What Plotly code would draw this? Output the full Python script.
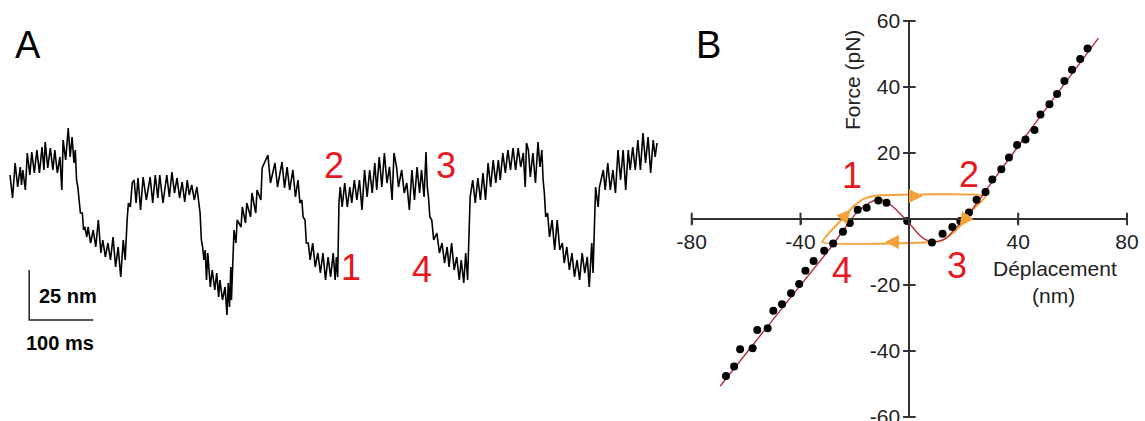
import plotly.graph_objects as go

W, H = 1145, 421

# ---------------- Panel A : position trace (time in ms, position in nm) ----------------
trace_t = [0, 4, 8, 12, 16, 18, 20, 24, 27, 31, 34, 38, 42, 46, 50, 53, 55, 59, 63, 67,
           70, 74, 78, 81, 83, 87, 91, 94, 97, 100, 102, 104, 106, 110, 113, 115, 117, 120,
           122, 126, 130, 134, 138, 142, 145, 149, 153, 157, 161, 165, 169, 173, 177, 180,
           183, 185, 188, 191, 194, 197, 200, 204, 208, 213, 219, 223, 227, 231, 234, 239,
           245, 249, 253, 257, 261, 265, 269, 273, 277, 280, 284, 288, 292, 295,
           297, 299, 301, 303, 305, 307, 309, 313, 316, 320, 323, 326, 328, 332, 336, 339,
           341, 343, 345, 346, 348, 350, 353, 355, 361, 363, 368, 370, 376, 378, 384, 386,
           392, 394, 403, 407, 414, 418, 425, 429, 433, 437, 442, 446, 450, 453, 456, 458,
           461, 463, 466, 469, 473, 477, 481, 485, 489, 493, 497, 501, 505, 508, 510, 512,
           513, 514, 516, 519, 523, 527, 531, 534, 538, 542, 546, 550, 554, 558, 562, 566,
           570, 573, 577, 581, 585, 589, 593, 597, 600, 604, 607, 612, 616, 620, 624, 628,
           632, 636, 640, 643, 647, 650, 652, 654, 656, 659, 662, 667, 671, 675, 679, 683,
           686, 690, 694, 698, 702, 705, 709, 712, 715, 717, 719, 723, 727, 731, 735, 739,
           743, 747, 751, 755, 759, 763, 766, 770, 774, 778, 782, 786, 790, 794, 798, 802,
           805, 807, 810, 813, 817, 821, 825, 828, 831, 833, 835, 837, 840, 843, 847, 851,
           855, 859, 863, 866, 870, 874, 878, 882, 886, 890, 894, 898, 902, 905, 909, 911,
           913, 915, 919, 921, 927, 930, 934, 938, 942, 946, 950, 954, 958, 962, 966, 969,
           973, 977, 981, 985, 989, 993, 997, 1001, 1005, 1008, 1011]
trace_nm = [77.5, 66, 83.5, 71.5, 81.5, 72.5, 80, 70, 88.5, 77.5, 89, 78.5, 90, 78.5, 91.5, 80, 94, 81, 91, 80,
            90, 78.5, 86.5, 70, 95, 85, 101, 86.5, 96.5, 83.5, 90, 75, 71.5, 58.5, 58.5, 50, 51.5, 46.5,
            51.5, 43.5, 50, 41.5, 55, 38.5, 45, 36.5, 43.5, 35, 46.5, 31.5, 41.5, 26.5, 45, 35,
            55, 63.5, 61.5, 73.5, 75, 63.5, 76, 60, 76.5, 65, 76.5, 63.5, 77.5, 66, 77.5, 63.5,
            77.5, 66.5, 79, 68.5, 76, 66, 74, 64, 75, 67.5, 72.5, 65, 71.5, 61.5,
            58.5, 45, 41.5, 35, 40, 25, 38.5, 21.5, 30, 20, 28.5, 16.5, 25, 15, 21.5, 7.5,
            23.5, 11.5, 31.5, 15, 38.5, 50, 43.5, 55, 51.5, 61.5, 53.5, 63.5, 56.5, 68.5, 58.5, 70,
            65, 81, 87.5, 73.5, 83.5, 71.5, 84, 71, 81.5, 70, 80, 66.5, 75, 63.5, 65, 56.5,
            55, 43.5, 43.5, 35, 43.5, 31.5, 38.5, 28.5, 38.5, 25, 36.5, 26.5, 38.5, 25, 36.5, 26.5,
            45, 63.5, 71.5, 61.5, 73.5, 61.5, 71.5, 63.5, 75, 65, 75, 60, 80, 66.5, 80, 68.5,
            83.5, 70, 86.5, 71.5, 88.5, 73.5, 81.5, 65, 88.5, 81.5, 71.5, 80, 68.5, 73.5, 60, 80,
            65, 81.5, 68.5, 80, 66.5, 89, 71.5, 66, 56.5, 55, 45, 48.5, 38.5, 43.5, 33.5, 41.5,
            31.5, 43.5, 30, 36.5, 25, 35, 23.5, 38.5, 25, 50, 66.5, 75, 63.5, 76, 65, 78.5,
            65, 83.5, 71.5, 85, 73.5, 85, 75, 88.5, 78.5, 90, 80, 91, 80, 91, 81.5, 88.5,
            71.5, 93.5, 90, 76.5, 88.5, 73.5, 94, 81.5, 90, 75, 68, 56.5, 58.5, 46.5, 55, 40,
            55, 40, 43.5, 33.5, 41.5, 30, 38.5, 26.5, 35, 25, 38.5, 28.5, 36.5, 21.5, 43.5, 28.5,
            55, 71.5, 61.5, 71.5, 80, 70, 83.5, 70, 80, 68.5, 90, 75, 90, 70, 90, 80,
            91.5, 80, 95, 80, 98.5, 83.5, 96.5, 78.5, 95, 86.5, 93.5]

# scale bar: 25 nm x 100 ms
scalebar_t = [30, 30, 130]
scalebar_nm = [30, 5, 5]

# ---------------- Panel B : force vs displacement ----------------
dots_x = [-67.4, -64.4, -62.2, -57.6, -55.9, -52.1, -50.0, -46.8, -43.5, -40.5, -38.2, -35.2, -31.3,
          -28.0, -24.4, -21.9, -19.0, -15.7, -11.4, -8.4, -0.8, 8.3, 12.2, 15.8, 18.7, 21.9, 24.7,
          28.0, 30.5, 33.8, 36.6, 39.6, 42.7, 46.0, 48.2, 51.5, 54.3, 57.0, 59.8, 62.8, 65.5]
dots_y = [-47.6, -44.7, -39.5, -39.2, -33.6, -33.1, -27.8, -25.8, -22.5, -19.7, -15.7, -12.7, -9.6,
          -7.4, -3.9, -1.2, 2.8, 3.4, 5.6, 4.9, -0.6, -7.1, -4.5, -2.4, -0.6, 2.0, 5.8,
          8.2, 12.0, 15.1, 18.6, 22.4, 24.1, 27.0, 31.7, 34.8, 37.9, 41.8, 45.2, 48.5, 51.7]

fit_x = [-69.5, -45, -30, -23, -19.5, -16, -13, -11, -8.5, -6, -3.5, 0, 2.5, 5, 8, 11, 13.5, 17, 21, 25, 30, 45, 69.5]
fit_y = [-50.6, -25.2, -9.8, -2, 1.8, 4.2, 5.6, 6, 5.2, 3.7, 1.7, -1.3, -3.8, -5.8, -6.8, -6.7, -5.8, -2.8, 0.7, 5, 10.8, 27.6, 54.8]

loop_x = [-32, -25, -20.7, -17, -12.8, 28.1, 23.2, 19.5, 15.9, 12.3, 9.8, -32]
loop_y = [-7, -0.3, 3.7, 6, 7, 7, 2.7, -1.3, -4.3, -6.4, -6.9, -7]

# arrows on the loop: (head x, head y, tail x, tail y)
arrow_heads_x = [5, -9, -21.5, 18.5]
arrow_heads_y = [7, -7, 2.9, -2.3]
arrow_tails_x = [0, -4, -25, 22]
arrow_tails_y = [7, -7, -0.3, 1.8]

xtick_vals = [-80, -40, 40, 80]
xtick_text = ["-80", "-40", "40", "80"]
ytick_vals = [-60, -40, -20, 20, 40, 60]
ytick_text = ["-60", "-40", "-20", "20", "40", "60"]

FONT = "Liberation Sans, Arial, Helvetica, sans-serif"
AXC = "#333333"
RED = "#e8191e"
ORANGE = "#f4a23a"
FITC = "#b0303e"

fig = go.Figure()

# Panel A
fig.add_trace(go.Scatter(x=trace_t, y=trace_nm, mode="lines",
                         line=dict(color="black", width=1.6), xaxis="x", yaxis="y",
                         hoverinfo="skip"))
fig.add_trace(go.Scatter(x=scalebar_t, y=scalebar_nm, mode="lines",
                         line=dict(color="#222", width=1.5), xaxis="x", yaxis="y",
                         hoverinfo="skip"))

# Panel B
fig.add_trace(go.Scatter(x=loop_x, y=loop_y, mode="lines",
                         line=dict(color=ORANGE, width=2.0, shape="spline", smoothing=0.4),
                         xaxis="x2", yaxis="y2", cliponaxis=False))
fig.add_trace(go.Scatter(x=fit_x, y=fit_y, mode="lines",
                         line=dict(color=FITC, width=1.4, shape="spline", smoothing=0.6),
                         xaxis="x2", yaxis="y2", cliponaxis=False))
fig.add_trace(go.Scatter(x=dots_x, y=dots_y, mode="markers",
                         marker=dict(color="black", size=8),
                         xaxis="x2", yaxis="y2", cliponaxis=False))
# cross ticks
fig.add_trace(go.Scatter(x=xtick_vals, y=[0] * len(xtick_vals), mode="markers",
                         marker=dict(symbol="line-ns", size=9, line=dict(width=2, color=AXC)),
                         xaxis="x2", yaxis="y2", cliponaxis=False, hoverinfo="skip"))
fig.add_trace(go.Scatter(x=[0] * len(ytick_vals), y=ytick_vals, mode="markers",
                         marker=dict(symbol="line-ew", size=9, line=dict(width=2, color=AXC)),
                         xaxis="x2", yaxis="y2", cliponaxis=False, hoverinfo="skip"))

annotations = []
for hx, hy, tx, ty in zip(arrow_heads_x, arrow_heads_y, arrow_tails_x, arrow_tails_y):
    annotations.append(dict(x=hx, y=hy, ax=tx, ay=ty, xref="x2", yref="y2", axref="x2", ayref="y2",
                            showarrow=True, arrowhead=2, arrowsize=1.4, arrowwidth=2.0,
                            arrowcolor=ORANGE, text=""))


def label(px, py, txt, size, color="black", bold=False, angle=0, xanchor="center"):
    if bold:
        txt = "<b>" + txt + "</b>"
    annotations.append(dict(x=px / W, y=1 - py / H, xref="paper", yref="paper", text=txt,
                            showarrow=False, xanchor=xanchor, yanchor="middle", textangle=angle,
                            font=dict(family=FONT, size=size, color=color)))


label(28, 45, "A", 38)
label(708, 45, "B", 38)
label(37, 296, "25 nm", 20, bold=True, xanchor="left")
label(60, 343, "100 ms", 20, bold=True)
label(334, 165, "2", 36, RED)
label(446, 165, "3", 36, RED)
label(351, 267, "1", 36, RED)
label(422, 269, "4", 36, RED)
label(852, 175, "1", 36, RED)
label(969, 174, "2", 36, RED)
label(957, 265, "3", 36, RED)
label(842, 270, "4", 36, RED)
label(853, 80, "Force (pN)", 21, "#222", angle=-90)
label(1055, 268, "Déplacement", 21, "#222")
label(1053, 295, "(nm)", 21, "#222")

xB0, xB1 = 691.7 / W, 1127.0 / W
yB0, yB1 = (H - 417.0) / H, (H - 21.0) / H

fig.update_layout(
    width=W, height=H, margin=dict(l=0, r=0, t=0, b=0, autoexpand=False),
    paper_bgcolor="white", plot_bgcolor="rgba(0,0,0,0)", showlegend=False,
    xaxis=dict(domain=[0, 0.6], range=[-15.625, 1057.8], visible=False, automargin=False),
    yaxis=dict(domain=[0, 1], range=[-45.5, 165], visible=False, automargin=False),
    xaxis2=dict(domain=[xB0, xB1], range=[-80, 80], anchor="free", position=(yB0 + yB1) / 2,
                automargin=False, ticklabeloverflow="allow",
                showline=True, linecolor=AXC, linewidth=2, showgrid=False, zeroline=False,
                ticks="outside", ticklen=4, tickwidth=2, tickcolor=AXC,
                tickvals=xtick_vals, ticktext=xtick_text,
                tickfont=dict(family=FONT, size=21, color="#222")),
    yaxis2=dict(domain=[yB0, yB1], range=[-60, 60], anchor="free", position=(xB0 + xB1) / 2,
                automargin=False, ticklabeloverflow="allow",
                showline=True, linecolor=AXC, linewidth=2, showgrid=False, zeroline=False,
                ticks="outside", ticklen=4, tickwidth=2, tickcolor=AXC,
                tickvals=ytick_vals, ticktext=ytick_text,
                tickfont=dict(family=FONT, size=21, color="#222")),
    annotations=annotations,
)

fig.write_html("out.html", config={"displayModeBar": False})
